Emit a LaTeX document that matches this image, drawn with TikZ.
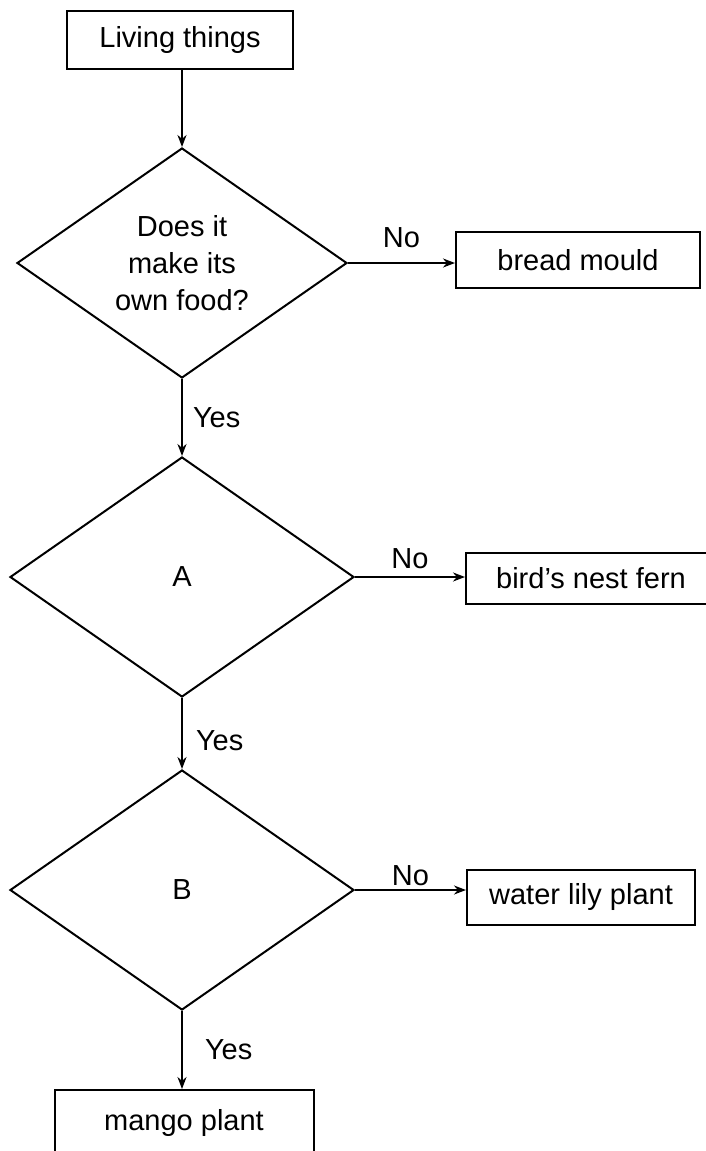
\documentclass[tikz,border=0pt]{standalone}
\usepackage{fontspec}
\setmainfont{Liberation Sans}
\usetikzlibrary{shapes.geometric,arrows.meta}
\tikzset{
	box/.style={draw, rectangle, inner sep=0, align=center},
	question/.style={draw, diamond, inner sep=0, align=center, minimum width=344, minimum height=240},
	answer/.style={inner sep=0},
}
\begin{document}
\begin{tikzpicture}[x=1pt, y=-1pt, line width=2, >={Stealth[length=12pt,width=9pt]}, font=\fontsize{29}{37}\selectfont]
	\useasboundingbox (0,0) rectangle (705,1151);

	\node [box, minimum width=226, minimum height=58] (living) at (180,40) {Living things};
	\node [question, minimum width=330, minimum height=230] (food) at (182,263) {Does it\\make its\\own food?};
	\node [box, minimum width=244, minimum height=56] (mould) at (578,260) {bread mould};

	\node [question] (qa) at (182,577) {A};
	\node [box, minimum width=250, minimum height=51] (fern) at (591,578) {bird's nest fern};

	\node [question] (qb) at (182,890) {B};
	\node [box, minimum width=228, minimum height=55] (lily) at (581,897) {water lily plant};

	\node [box, minimum width=259, minimum height=66] (mango) at (184,1123) {mango plant};

	\draw [->] (food.north |- living.south) -- (food.north);
	\draw [->] (food.east) -- (food.east -| mould.west) node [midway, above=14pt, answer] {No};
	\draw [->] (food.south) -- (qa.north) node [midway, right=10pt, answer] {Yes};

	\draw [->] (qa.east) -- (qa.east -| fern.west) node [midway, above=7pt, answer] {No};
	\draw [->] (qa.south) -- (qb.north) node [pos=.6, right=13pt, answer] {Yes};

	\draw [->] (qb.east) -- (qb.east -| lily.west) node [midway, above=3pt, answer] {No};
	\draw [->] (qb.south) -- (qb.south |- mango.north) node [midway, right=22pt, answer] {Yes};

\end{tikzpicture}
\end{document}
